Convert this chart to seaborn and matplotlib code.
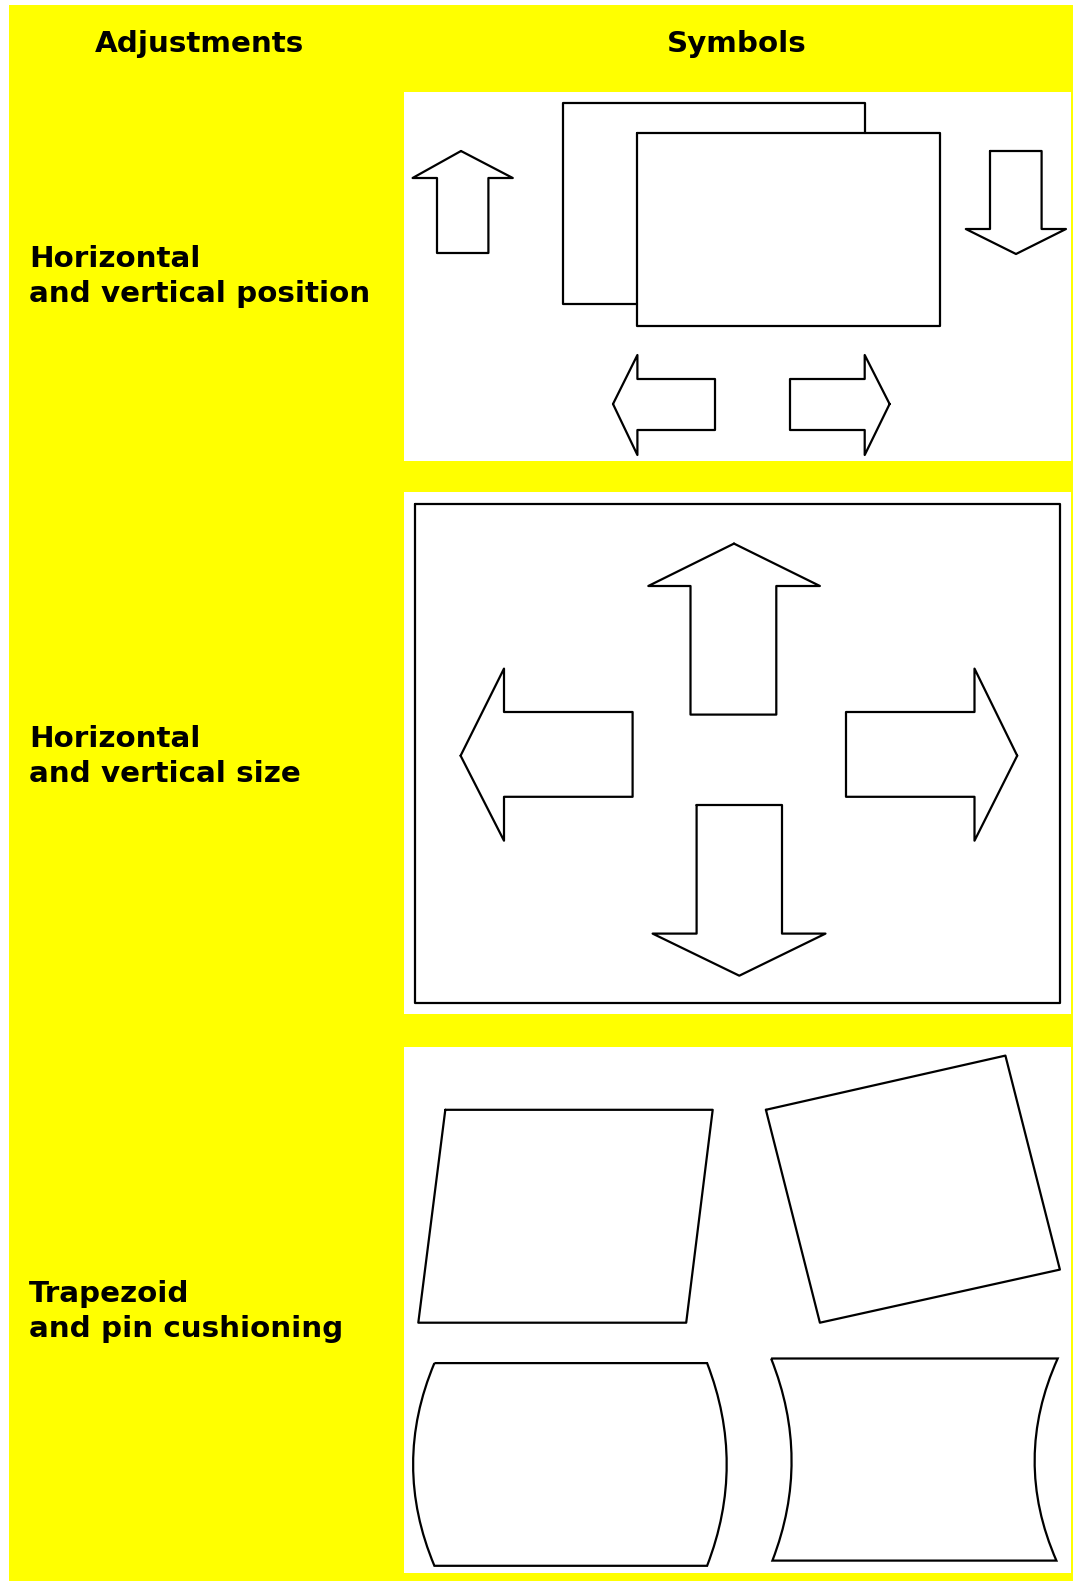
import pandas as pd
import seaborn as sns
import matplotlib.pyplot as plt
from matplotlib.patches import Rectangle, PathPatch
from matplotlib.path import Path

# Table text
headers = ['Adjustments', 'Symbols']
header_x = [199, 737]
row_labels = [['Horizontal', 'and vertical position'],
              ['Horizontal', 'and vertical size'],
              ['Trapezoid', 'and pin cushioning']]
row_baselines = [266.7, 746.7, 1301.7]

# White symbol panels (x0, y0, x1, y1) in pixels
panels = [(404, 92, 1071, 461), (404, 492, 1071, 1014), (404, 1047, 1071, 1573)]

# Straight-edged symbol outlines (pixel coordinates, y downwards)
shapes = {
    # row 1: horizontal and vertical position
    'back_rect': [(637.4, 304), (563, 304), (563, 103), (864.7, 103), (864.7, 132.7)],
    'front_rect': [(637.4, 132.7), (940, 132.7), (940, 326), (637.4, 326), (637.4, 132.7)],
    'up1': [(461, 151), (512.8, 178), (488.4, 178), (488.4, 253), (437, 253), (437, 178),
            (412.6, 178), (461, 151)],
    'down1': [(990, 151), (1041.6, 151), (1041.6, 229), (1066, 229), (1016, 254),
              (965.8, 229), (990, 229), (990, 151)],
    'left1': [(613, 404), (637.4, 355), (637.4, 379), (715, 379), (715, 430),
              (637.4, 430), (637.4, 455), (613, 404)],
    'right1': [(889.6, 404), (864.7, 355), (864.7, 379), (790, 379), (790, 430),
               (864.7, 430), (864.7, 455), (889.6, 404)],
    # row 2: horizontal and vertical size
    'frame2': [(415.3, 503.9), (1059.9, 503.9), (1059.9, 1003.2), (415.3, 1003.2), (415.3, 503.9)],
    'up2': [(734, 543.6), (819.9, 586), (776.3, 586), (776.3, 714.6), (690.5, 714.6),
            (690.5, 586), (648.3, 586), (734, 543.6)],
    'down2': [(696.6, 805), (782, 805), (782, 933.6), (825.5, 933.6), (739.3, 975.7),
              (652.6, 933.6), (696.6, 933.6), (696.6, 805)],
    'left2': [(460.6, 755.7), (504, 668.6), (504, 712), (632.6, 712), (632.6, 796.8),
              (504, 796.8), (504, 840.7), (460.6, 755.7)],
    'right2': [(1017.2, 755.7), (974.5, 668.6), (974.5, 712), (846, 712), (846, 796.8),
               (974.5, 796.8), (974.5, 840.7), (1017.2, 755.7)],
    # row 3: trapezoid and tilt
    'parallelogram': [(445.3, 1109.8), (712.7, 1109.8), (686.2, 1322.7), (418.3, 1322.7),
                      (445.3, 1109.8)],
    'rotated': [(765.9, 1109.8), (1005.4, 1055.6), (1059.9, 1269.6), (819.9, 1322.7),
                (765.9, 1109.8)],
}

# Curved outlines: corners (top-left, top-right, bottom-right, bottom-left)
# and the bend control x for the left and right sides
barrel_corners = [(434.4, 1363.1), (707.1, 1363.1), (707.1, 1565.8), (434.4, 1565.8)]
barrel_ctrl_x = [391.8, 746.3]
pin_corners = [(771.1, 1358.5), (1057.7, 1358.5), (1056.4, 1560.6), (772.4, 1560.6)]
pin_ctrl_x = [811.4, 1012.2]

rows = []
for name, pts in shapes.items():
    for i, (x, y) in enumerate(pts):
        rows.append({'shape': name, 'order': i, 'x': x, 'y': y})
df = pd.DataFrame(rows)


def curved_box(corners, ctrl_x):
    (tlx, tly), (trx, try_), (brx, bry), (blx, bly) = corners
    verts = [(tlx, tly), (trx, try_),
             (ctrl_x[1], (try_ + bry) / 2), (brx, bry),
             (blx, bly),
             (ctrl_x[0], (tly + bly) / 2), (tlx, tly)]
    codes = [Path.MOVETO, Path.LINETO, Path.CURVE3, Path.CURVE3,
             Path.LINETO, Path.CURVE3, Path.CURVE3]
    return PathPatch(Path(verts, codes), facecolor='none', edgecolor='black',
                     linewidth=1.6, zorder=2, joinstyle='miter')


sns.set_style('white')
plt.rcParams['font.family'] = ['DejaVu Sans']

W, H = 1073, 1581
fig = plt.figure(figsize=(W / 100, H / 100), dpi=100)
ax = fig.add_axes([0, 0, 1, 1])

# yellow table background and white panels
ax.add_patch(Rectangle((9, 5), W - 9, H - 5, facecolor='#ffff00', edgecolor='none', zorder=0))
for x0, y0, x1, y1 in panels:
    ax.add_patch(Rectangle((x0, y0), x1 - x0, y1 - y0, facecolor='white',
                           edgecolor='none', zorder=1))

# symbol outlines
sns.lineplot(data=df, x='x', y='y', units='shape', estimator=None, sort=False,
             color='black', linewidth=1.6, legend=False, ax=ax, zorder=2)
ax.add_patch(curved_box(barrel_corners, barrel_ctrl_x))
ax.add_patch(curved_box(pin_corners, pin_ctrl_x))

ax.set_xlim(0, W)
ax.set_ylim(H, 0)
ax.axis('off')

# header text
for txt, xc in zip(headers, header_x):
    ax.text(xc, 51.7, txt, ha='center', va='baseline', fontsize=21.2,
            fontweight='bold', color='black', zorder=3)

# row labels
for lines, yb in zip(row_labels, row_baselines):
    for k, line in enumerate(lines):
        ax.text(29, yb + 35 * k, line, ha='left', va='baseline', fontsize=21.2,
                fontweight='bold', color='black', zorder=3)

fig.savefig('out.png', dpi=100)
